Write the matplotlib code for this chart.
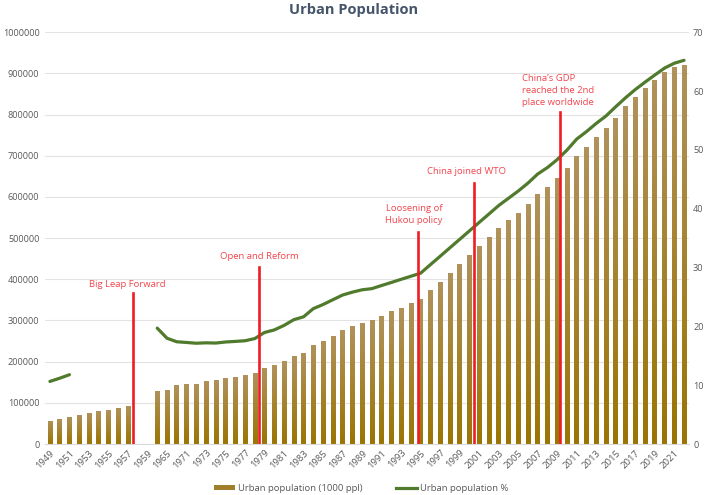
import numpy as np
import matplotlib
matplotlib.use("Agg")
import matplotlib.pyplot as plt
from matplotlib.patches import Patch
from matplotlib.lines import Line2D
from matplotlib.colors import LinearSegmentedColormap

plt.rcParams['font.family'] = ['Open Sans', 'DejaVu Sans']

# ---------------- data ----------------
years = ([str(y) for y in range(1949, 1960)] + ["1960", "1965", "1970"]
         + [str(y) for y in range(1971, 2023)])

urban_pop = [56000, 60500, 65500, 71000, 76000, 80000, 82500, 87500, 91500,
             np.nan, np.nan,
             129500, 130000, 144200,
             146400, 146600, 153700, 156100, 159400, 162600, 166700, 172300,
             185000, 191000, 201500, 214400, 221500, 239500, 250800, 263000,
             276700, 285800, 294800, 301800, 311500, 322000, 331000, 342500,
             351100, 373000, 393500, 415500, 437000, 459000, 480600, 501500,
             523500, 542900, 561800, 583000, 606100, 624000, 645400, 669500,
             699000, 720900, 744300, 766200, 792100, 819600, 843000, 863800,
             883800, 902100, 914300, 920000]

urban_pct = [10.64, 11.18, 11.78, np.nan, np.nan, np.nan, np.nan, np.nan, np.nan,
             np.nan, np.nan,
             19.7, 17.98, 17.38,
             17.26, 17.13, 17.20, 17.16, 17.34, 17.44, 17.55, 17.92,
             18.96, 19.39, 20.16, 21.13, 21.62, 23.01, 23.71, 24.52,
             25.32, 25.81, 26.21, 26.41, 26.94, 27.46, 27.99, 28.51,
             29.04, 30.48, 31.91, 33.35, 34.78, 36.22, 37.66, 39.09,
             40.53, 41.76, 42.99, 44.34, 45.89, 46.99, 48.34, 49.95,
             51.83, 53.10, 54.49, 55.75, 57.33, 58.84, 60.24, 61.50,
             62.71, 63.89, 64.72, 65.22]

# events: (category position, line top value on left axis, label, label x, label y, ha)
event_pos = [8.5, 21.45, 37.7, 43.5, 52.3]
event_top = [366500, 429600, 515300, 634000, 806500]
event_labels = ["Big Leap Forward", "Open and Reform", "Loosening of\nHukou policy",
                "China joined WTO", "China’s GDP\nreached the 2nd\nplace worldwide"]
label_x = [7.9, 21.5, 37.3, 42.7, 48.4]
label_y = [388300, 456300, 556500, 662600, 859200]
label_ha = ["center", "center", "center", "center", "left"]

# ---------------- figure ----------------
fig = plt.figure(figsize=(7.08, 4.95), dpi=100)
ax = fig.add_axes([0.0636, 0.103, 0.9094, 0.832])
ax2 = ax.twinx()

x = np.arange(len(years))
bar_color = "#A07E2A"
bars = ax.bar(x, urban_pop, width=0.46, color=bar_color, zorder=2)

# gradient fill per bar
cmap = LinearSegmentedColormap.from_list("g", ["#9B7503", "#B0925A"])
grad = np.linspace(0, 1, 64).reshape(-1, 1)
for b in bars:
    h = b.get_height()
    if not np.isfinite(h) or h <= 0:
        continue
    x0 = b.get_x()
    w = b.get_width()
    im = ax.imshow(grad, cmap=cmap, origin="lower", aspect="auto",
                   extent=[x0, x0 + w, 0, h], zorder=2.5, interpolation="bilinear")
    im.set_clip_path(b)
    b.set_facecolor("none")

ax.set_xlim(-0.5, len(years) - 0.5)
ax.set_ylim(0, 1000000)
ax.set_yticks(np.arange(0, 1000001, 100000))
ax.set_yticklabels([str(v) for v in range(0, 1000001, 100000)])
ax.yaxis.grid(True, color="#E3E3E3", lw=0.8, zorder=0)
ax.set_axisbelow(True)

ax.set_xticks(x[::2])
ax.set_xticklabels(years[::2], rotation=45, ha="right", rotation_mode="anchor")

for a in (ax, ax2):
    for s in a.spines.values():
        s.set_visible(False)
    a.tick_params(length=0, colors="#595959", labelsize=6.6)
ax.spines["bottom"].set_visible(True)
ax.spines["bottom"].set_color("#D9D9D9")
ax.tick_params(axis="x", pad=3, labelsize=6.8)
ax.tick_params(axis="y", pad=4)

ax2.plot(x, urban_pct, color="#507A2C", lw=2.3, solid_capstyle="round", zorder=3)
ax2.set_ylim(0, 70)
ax2.set_yticks(np.arange(0, 71, 10))
ax2.tick_params(axis="y", pad=3)

# event markers
red = "#EE1C25"
for px, top in zip(event_pos, event_top):
    ax2.plot([px, px], [0, top], transform=ax.transData, color=red, lw=1.9, zorder=5)
for lx, ly, lab, ha in zip(label_x, label_y, event_labels, label_ha):
    ax2.text(lx, ly, lab, transform=ax.transData, color="#F2454D", fontsize=6.8,
             ha=ha, va="center", linespacing=1.45, zorder=6)

fig.text(0.5, 0.98, "Urban Population", ha="center", va="center",
         fontsize=10.5, fontweight="bold", color="#44546A")

handles = [Patch(facecolor=bar_color, edgecolor="none"),
           Line2D([0], [0], color="#507A2C", lw=2.3)]
fig.legend(handles, ["Urban population (1000 ppl)", "Urban population %"],
           loc="center", bbox_to_anchor=(0.51, 0.013), ncol=2, frameon=False,
           fontsize=6.8, labelcolor="#595959", handlelength=2.3, handleheight=0.5,
           columnspacing=3.5, handletextpad=0.3)

fig.savefig("out.png", dpi=100)
